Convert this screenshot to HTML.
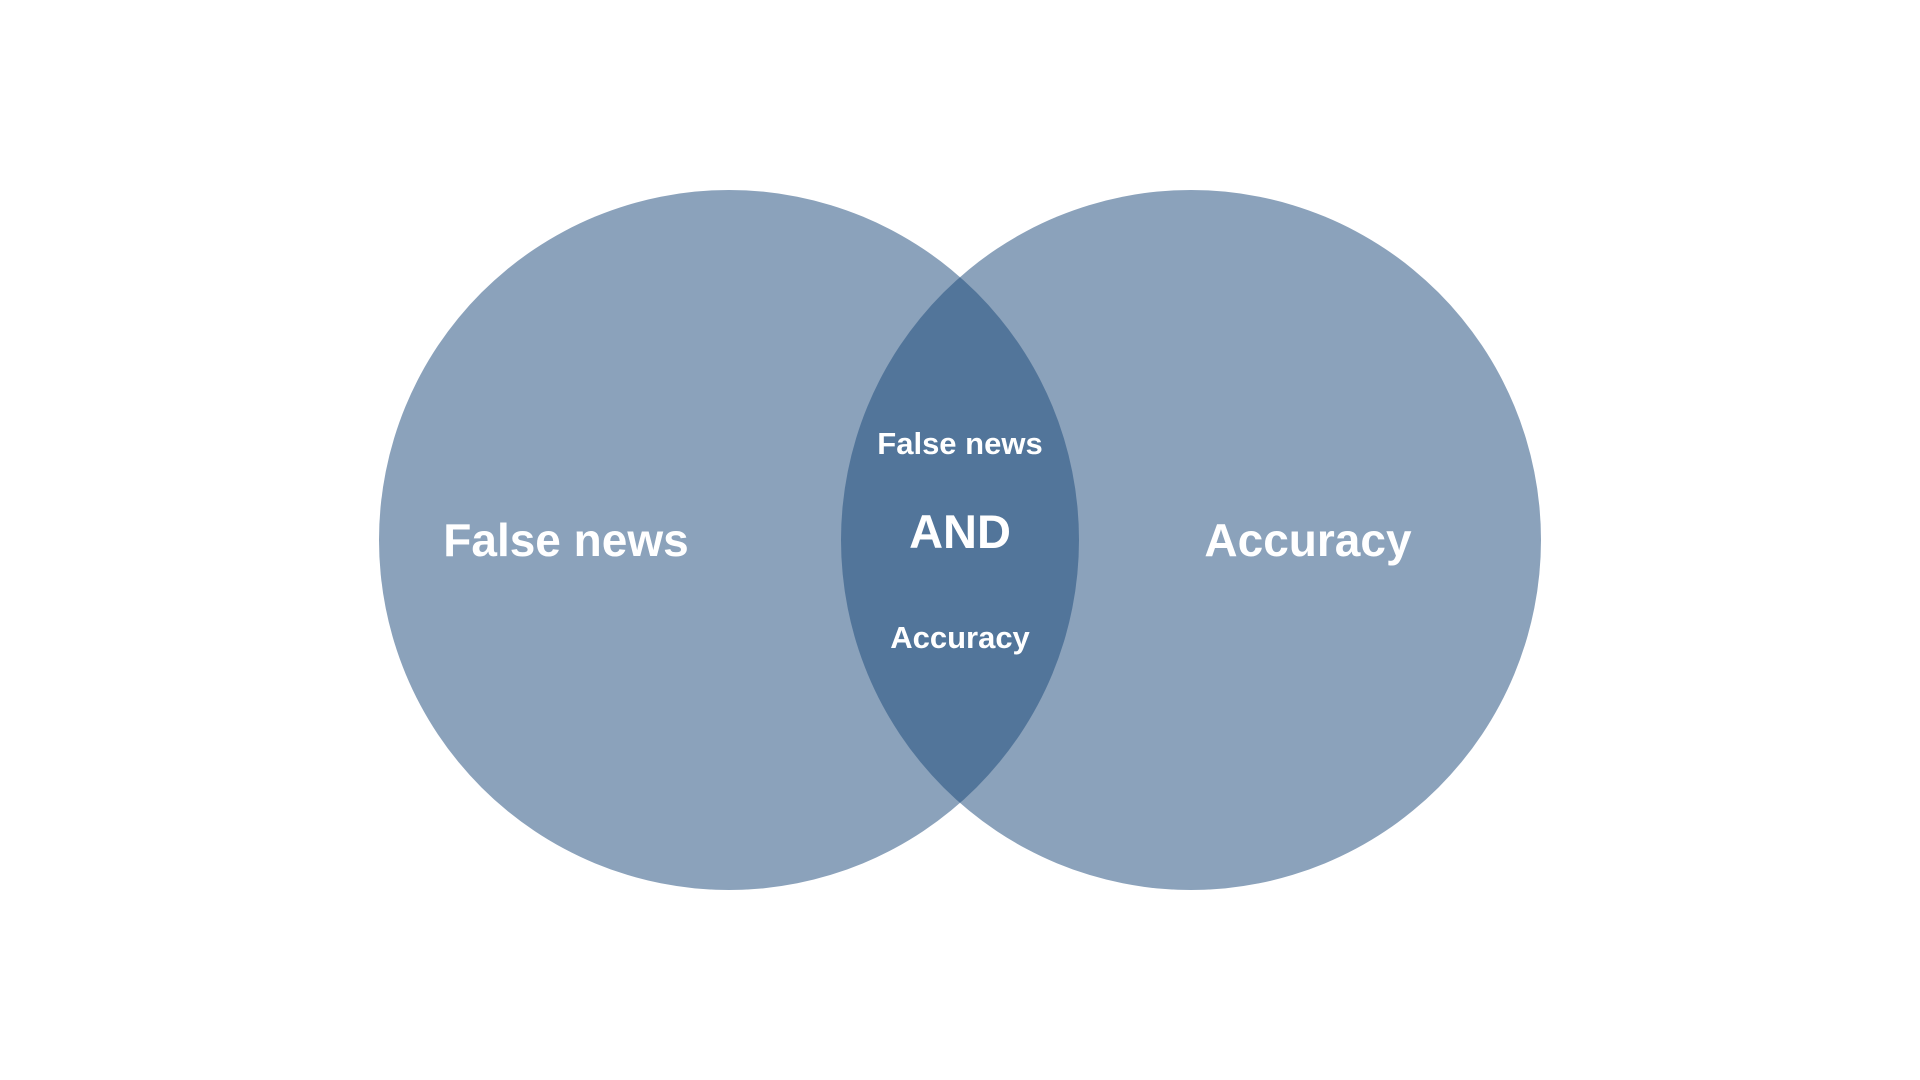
<!DOCTYPE html>
<html><head><meta charset="utf-8"><style>html,body{margin:0;padding:0;background:#fff}svg{display:block}</style></head>
<body>
<svg width="1920" height="1080" viewBox="0 0 1920 1080" xmlns="http://www.w3.org/2000/svg">
<defs><clipPath id="c"><circle cx="729" cy="540" r="350"/></clipPath></defs>
<circle cx="729" cy="540" r="350" fill="#8BA2BB"/>
<circle cx="1191" cy="540" r="350" fill="#8BA2BB"/>
<circle cx="1191" cy="540" r="350" fill="#52759A" clip-path="url(#c)"/>
<g font-family="Liberation Sans, sans-serif" font-weight="bold" fill="#fff" text-anchor="middle">
<text x="566" y="556" font-size="46">False news</text>
<text x="1308" y="556" font-size="46">Accuracy</text>
<text x="960" y="454" font-size="31">False news</text>
<text x="960" y="548" font-size="47">AND</text>
<text x="960" y="648" font-size="31">Accuracy</text>
</g>
</svg>
</body></html>
